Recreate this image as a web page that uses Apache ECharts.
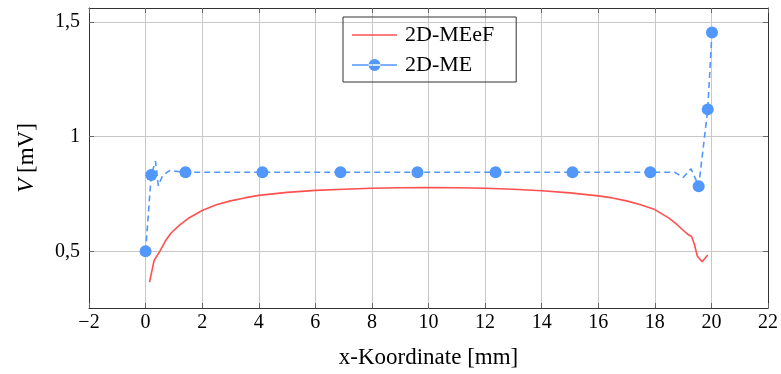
<!DOCTYPE html>
<html><head><meta charset="utf-8">
<script src="https://cdn.jsdelivr.net/npm/echarts@6/dist/echarts.min.js"></script>
<style>html,body{margin:0;padding:0;background:#fff}#c{width:781px;height:374px}</style>
</head><body><div id="c"></div>
<script>
const xTicks = [-2,0,2,4,6,8,10,12,14,16,18,20,22];
const yTicks = [0.5, 1, 1.5];
const yTickLabels = ['0,5', '1', '1,5'];

const redName = '2D-MEeF';
const redX = [0.14,0.3,0.5,0.7,0.9,1.2,1.5,2,2.5,3,3.5,4,5,6,7,8,9,10,11,12,13,14,15,16,16.5,17,17.5,18,18.5,18.8,19.0,19.2,19.3,19.4,19.5,19.67,19.87];
const redY = [0.366,0.46,0.5,0.545,0.58,0.614,0.643,0.678,0.703,0.72,0.733,0.744,0.757,0.766,0.771,0.775,0.777,0.778,0.777,0.775,0.771,0.764,0.755,0.742,0.733,0.72,0.703,0.682,0.645,0.615,0.592,0.571,0.565,0.53,0.48,0.455,0.484];

const blueName = '2D-ME';
const blueX = [0,0.2,0.35,0.45,0.6,0.85,1.41,4.13,6.89,9.61,12.37,15.09,17.84,18.7,19.0,19.28,19.55,19.87,20.02];
const blueY = [0.5,0.833,0.893,0.786,0.83,0.852,0.845,0.845,0.845,0.845,0.845,0.845,0.845,0.845,0.822,0.86,0.784,1.119,1.454];
const blueMarked = [1,1,0,0,0,0,1,1,1,1,1,1,1,0,0,0,1,1,1];

const RED = '#ff5050', BLUE = '#5297fc';
const FONT = 'Liberation Serif';
const gridColor = '#c8c8c8', frameColor = '#333', tickColor = '#666';

const redData = redX.map((x,i)=>[x, redY[i]]);
const blueData = blueX.map((x,i)=> blueMarked[i] ? {value:[x, blueY[i]]} : {value:[x, blueY[i]], symbolSize: 0});

const chart = echarts.init(document.getElementById('c'), null, {renderer:'canvas'});
const xBase = {type:'value', min:-2, max:22, interval:2,
  axisLine:{show:true, onZero:false, lineStyle:{color:frameColor, width:1}},
  axisTick:{show:true, inside:true, length:5, lineStyle:{color:tickColor}}};
const yBase = {type:'value', min:0.253, max:1.561,
  axisLine:{show:true, onZero:false, lineStyle:{color:frameColor, width:1}},
  axisTick:{show:true, inside:true, length:5, customValues:yTicks, lineStyle:{color:tickColor}}};

chart.setOption({
  animation:false,
  grid:{left:89, right:12, top:8, bottom:64, containLabel:false},
  legend:{
    orient:'vertical', left:343, top:17,
    borderColor:'#333', borderWidth:1, padding:[7,22,6,9], itemGap:8,
    itemWidth:45, itemHeight:13,
    textStyle:{fontFamily:FONT, fontSize:22, color:'#000', lineHeight:22, padding:[0,0,0,3]},
    data:[
      {name:redName, icon:'path://M0,5.7 L45,5.7 L45,7.3 L0,7.3 Z'},
      {name:blueName, icon:'path://M0,5.7 L45,5.7 L45,7.3 L0,7.3 Z M16.5,6.5 A6,6 0 1,0 28.5,6.5 A6,6 0 1,0 16.5,6.5 Z'}
    ]
  },
  xAxis:[
    Object.assign({}, xBase, {position:'bottom',
      name:'x-Koordinate [mm]', nameLocation:'middle', nameGap:38,
      nameTextStyle:{fontFamily:FONT, fontSize:23, color:'#000'},
      axisLabel:{fontFamily:FONT, fontSize:20, color:'#000', margin:5, formatter:v=> v<0 ? '\u2212'+Math.abs(v) : String(v)},
      splitLine:{show:true, lineStyle:{color:gridColor, width:1}}}),
    Object.assign({}, xBase, {position:'top', axisLabel:{show:false}, splitLine:{show:false}})
  ],
  yAxis:[
    Object.assign({}, yBase, {position:'left',
      name:'{i|V} [mV]', nameLocation:'middle', nameGap:51, nameRotate:90,
      nameTextStyle:{fontFamily:FONT, fontSize:23, color:'#000', rich:{i:{fontFamily:FONT, fontSize:23, fontStyle:'italic', color:'#000'}}},
      axisLabel:{fontFamily:FONT, fontSize:20, color:'#000', margin:9, customValues:yTicks,
        formatter:v=>{const i=yTicks.findIndex(t=>Math.abs(t-v)<1e-6); return i>=0?yTickLabels[i]:'';}},
      splitLine:{show:true, lineStyle:{color:gridColor, width:1}}}),
    Object.assign({}, yBase, {position:'right', axisLabel:{show:false}, splitLine:{show:false}})
  ],
  series:[
    {name:redName, type:'line', data:redData, showSymbol:false, symbol:'none', smooth:false,
     lineStyle:{color:RED, width:1.6}, itemStyle:{color:RED}, z:3},
    {name:blueName, type:'line', data:blueData, symbol:'circle', symbolSize:12, showAllSymbol:true,
     lineStyle:{color:BLUE, width:1.6, type:[6,4]}, itemStyle:{color:BLUE}, z:4}
  ]
});
</script></body></html>
